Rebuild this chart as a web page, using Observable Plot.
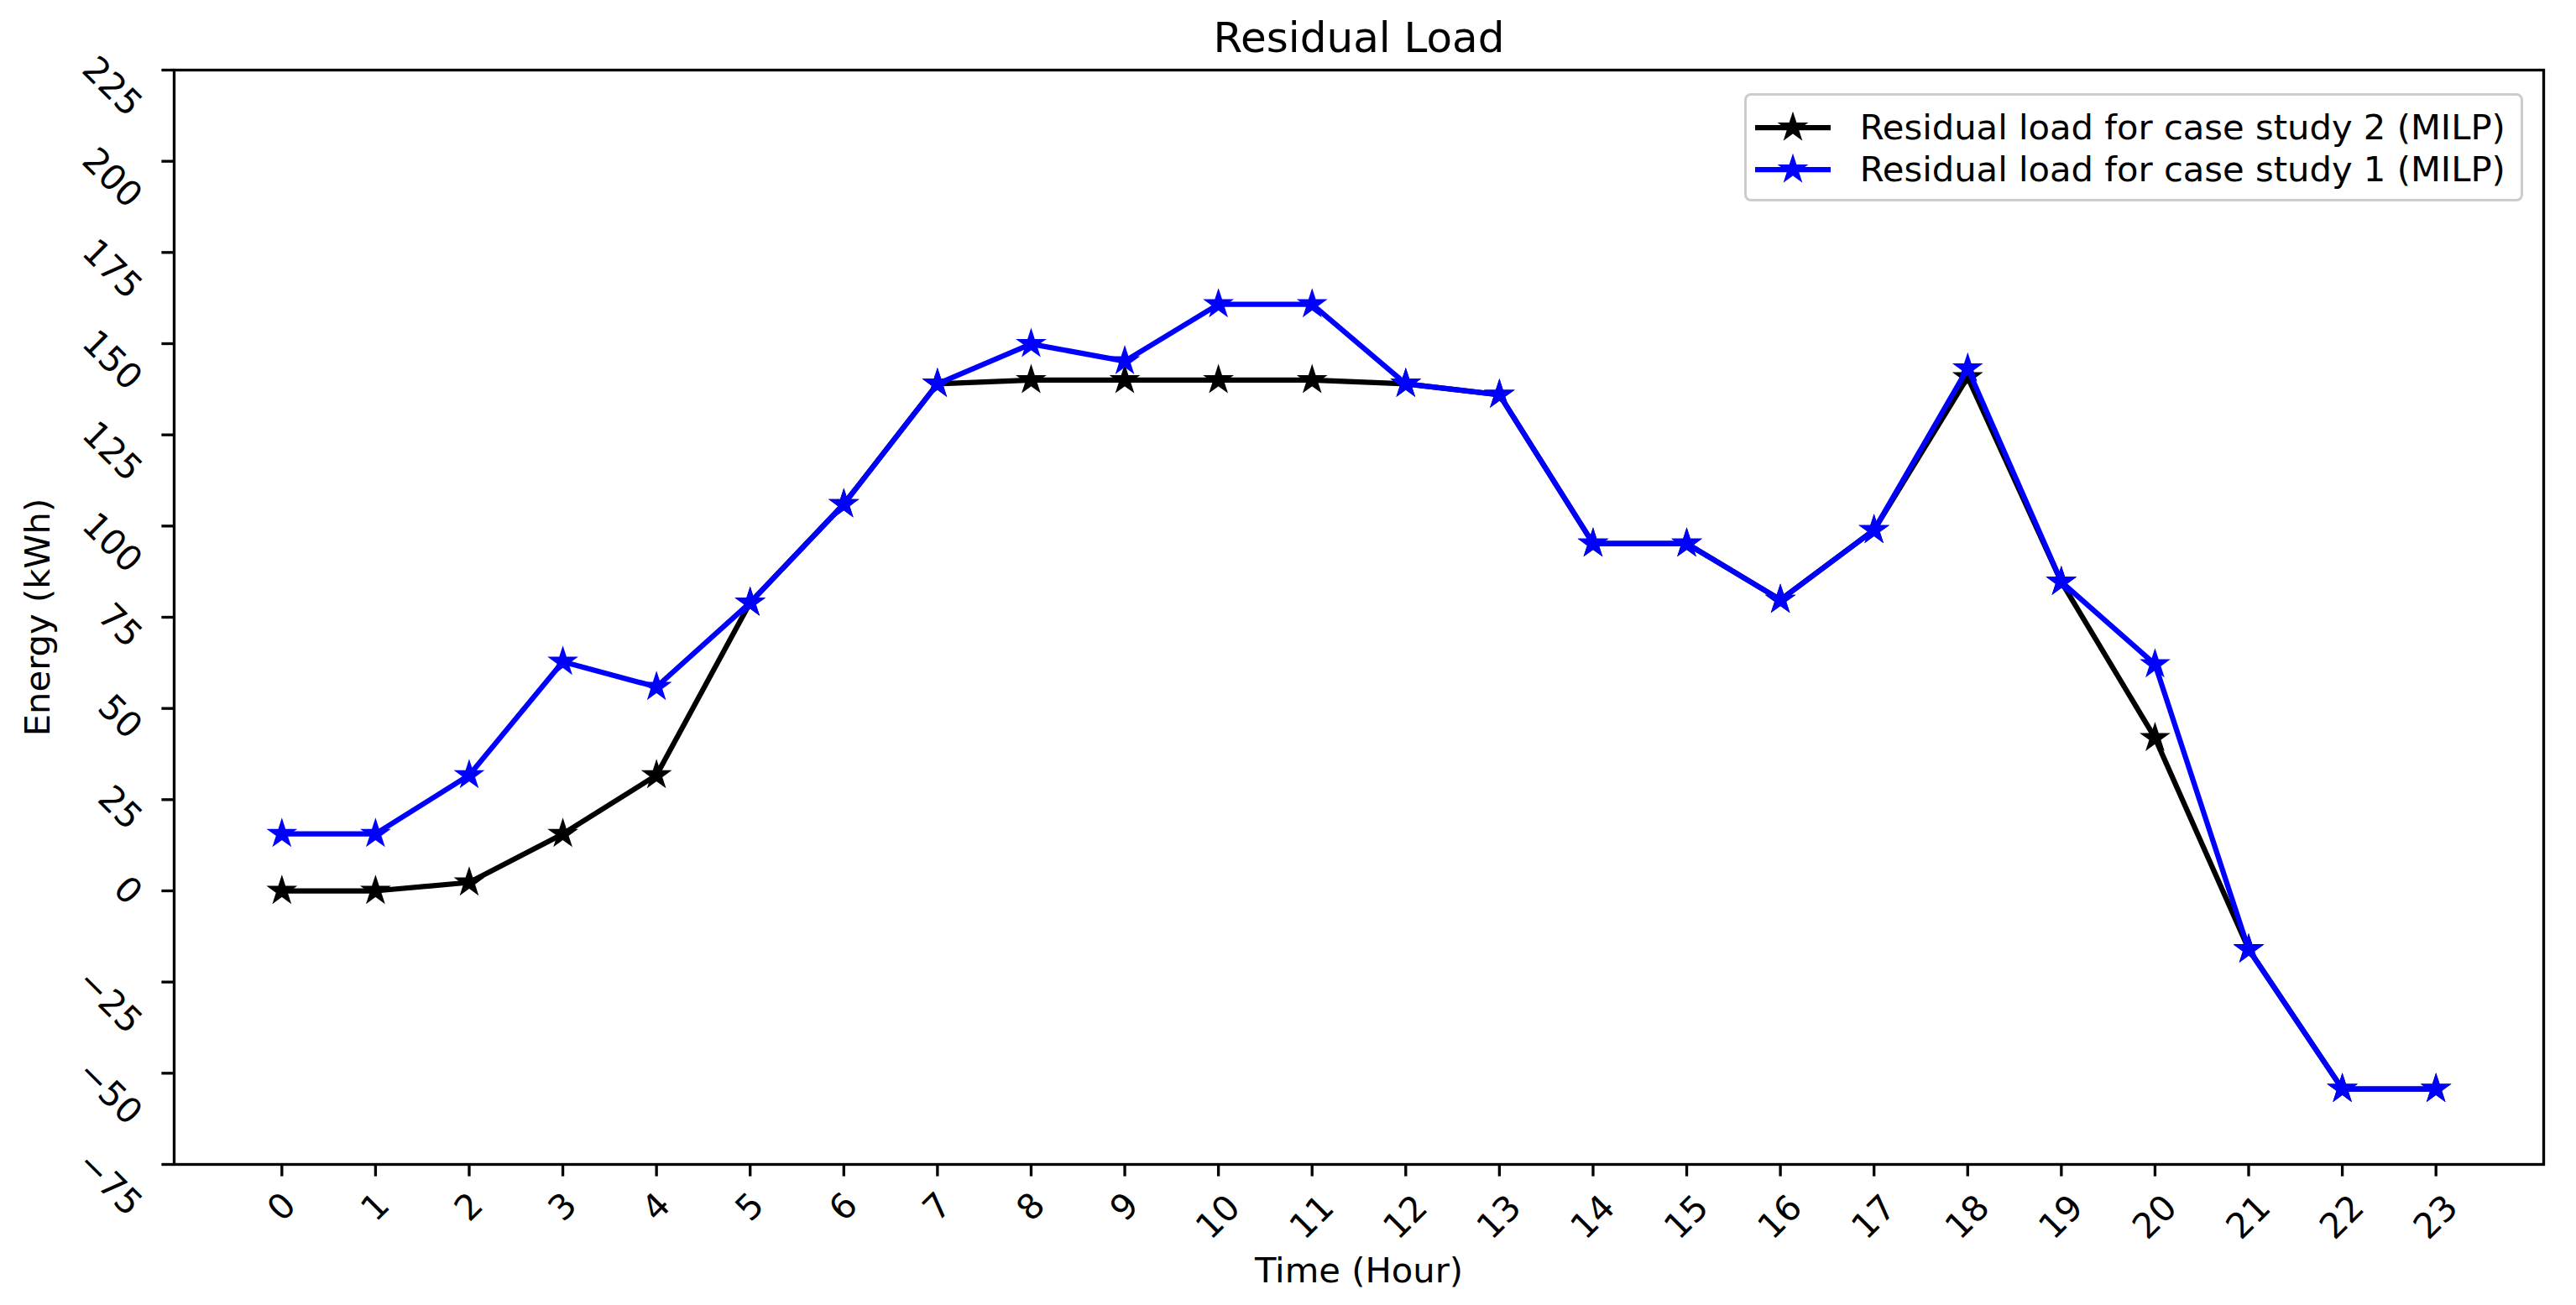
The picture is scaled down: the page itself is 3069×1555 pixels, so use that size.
<!DOCTYPE html>
<html>
<head>
<meta charset="utf-8">
<script src="https://cdn.jsdelivr.net/npm/d3@7"></script>
<script src="https://cdn.jsdelivr.net/npm/@observablehq/plot@0.6"></script>
<style>
  body { margin: 0; background: #fff; }
  #fig { position: relative; width: 3069px; height: 1555px; font-family: "DejaVu Sans", sans-serif; overflow: hidden; }
  #fig > svg { position: absolute; left: 0; top: 0; }
  #legend { position: absolute; left: 2078px; top: 111px; width: 928px; height: 129px; box-sizing: border-box;
            border: 3.3px solid #cccccc; border-radius: 8px; background: rgba(255,255,255,0.8); }
  .lrow { position: absolute; left: 0; width: 100%; height: 50px; }
  .lrow svg { position: absolute; left: 9.7px; top: 0; }
  .lrow span { position: absolute; left: 134.7px; top: 0; line-height: 50px; font-size: 41.7px; color: #000; white-space: nowrap; }
</style>
</head>
<body>
<div id="fig"></div>
<script>
// ---------- data ----------
const title = "Residual Load";
const xLabel = "Time (Hour)";
const yLabel = "Energy (kWh)";
const hours = [0, 1, 2, 3, 4, 5, 6, 7, 8, 9, 10, 11, 12, 13, 14, 15, 16, 17, 18, 19, 20, 21, 22, 23];
const hourLabels = ["0","1","2","3","4","5","6","7","8","9","10","11","12","13","14","15","16","17","18","19","20","21","22","23"];
const yTicks = [-75, -50, -25, 0, 25, 50, 75, 100, 125, 150, 175, 200, 225];
const yTickLabels = ["−75","−50","−25","0","25","50","75","100","125","150","175","200","225"];
const seriesNames = ["Residual load for case study 2 (MILP)", "Residual load for case study 1 (MILP)"];
const seriesColors = ["#000000", "#0000ff"];
// case study 2 (black)
const case2 = [0, 0, 2.3, 15.6, 31.7, 79, 106, 139, 140, 140, 140, 140, 139, 136, 95.2, 95.2, 79.8, 98.9, 140.8, 84.7, 41.9, -16, -54.3, -54.3];
// case study 1 (blue)
const case1 = [15.6, 15.6, 31.7, 62.8, 55.9, 79, 106, 139, 149.9, 145.2, 160.8, 160.8, 139, 136, 95.2, 95.2, 79.8, 98.9, 143.2, 84.7, 62.1, -16.1, -54.3, -54.3];

// ---------- build ----------
const seriesData = [case2, case1].map(vals => hours.map((h, i) => ({hour: h, value: vals[i]})));

const FS = 41.7;       // 10pt @300dpi
const LW = 6.25;       // 1.5pt line
const SW = 3.33;       // 0.8pt spines/ticks
const TICK = 14.6;     // 3.5pt
const R = 7.5;         // star radius param
const MEW = 4.2;       // marker edge width

// y tick labels grouped by rendered width (for matplotlib-like rotated placement)
const digitW = 0.636 * FS, minusW = 0.838 * FS;
const yLab = yTicks.map((v, i) => {
  const s = yTickLabels[i];
  const w = [...s].reduce((acc, c) => acc + (c === "−" ? minusW : digitW), 0);
  return {v, s, w};
});
const yGroups = d3.groups(yLab, d => d.w);
const yTextMarks = yGroups.map(([w, g]) => {
  const c = 0.377 * (w - digitW);
  return Plot.text(g, {frameAnchor: "left", y: "v", text: "s", rotate: 45, textAnchor: "end", lineAnchor: "middle",
                       dx: -46, dy: c + 0.354 * w, fontSize: FS});
});

const xLab = hours.map((h, i) => ({h, s: hourLabels[i]}));
const xGroups = d3.groups(xLab, d => d.s.length);
const xTextMarks = xGroups.map(([len, g]) =>
  Plot.text(g, {x: "h", frameAnchor: "bottom", text: "s", rotate: -45, textAnchor: "middle", lineAnchor: "middle",
                dy: len === 1 ? 51 : 63, fontSize: FS}));

const seriesMarks = seriesData.flatMap((data, k) => [
  Plot.line(data, {x: "hour", y: "value", stroke: seriesColors[k], strokeWidth: LW, strokeLinejoin: "round", strokeLinecap: "square"}),
  Plot.dot(data, {x: "hour", y: "value", symbol: "star", r: R, fill: seriesColors[k], stroke: seriesColors[k], strokeWidth: MEW})
]);

const chart = Plot.plot({
  width: 3069,
  height: 1555,
  marginLeft: 207,
  marginRight: 39,
  marginTop: 83,
  marginBottom: 168,
  x: {domain: [-1.15, 24.15]},
  y: {domain: [-75, 225]},
  style: {fontFamily: "DejaVu Sans", fontSize: FS + "px", background: "transparent", color: "black"},
  marks: [
    Plot.axisX({ticks: hours, tickSize: TICK, tickFormat: () => "", strokeWidth: SW, label: null}),
    Plot.axisY({ticks: yTicks, tickSize: TICK, tickFormat: () => "", strokeWidth: SW, label: null}),
    ...seriesMarks,
    Plot.frame({stroke: "black", strokeWidth: SW}),
    ...yTextMarks,
    ...xTextMarks,
    Plot.text([title], {frameAnchor: "top", text: d => d, textAnchor: "middle", lineAnchor: "bottom", dy: -22, fontSize: 50}),
    Plot.text([xLabel], {frameAnchor: "bottom", text: d => d, textAnchor: "middle", lineAnchor: "bottom", dy: 140, fontSize: FS}),
    Plot.text([yLabel], {frameAnchor: "left", text: d => d, textAnchor: "middle", lineAnchor: "bottom", rotate: -90, dx: -149, fontSize: FS})
  ]
});

const fig = document.getElementById("fig");
fig.appendChild(chart);

// ---------- legend ----------
const legend = document.createElement("div");
legend.id = "legend";
const starPath = d3.symbol(d3.symbolStar, R * R * Math.PI)();
seriesNames.forEach((name, k) => {
  const row = document.createElement("div");
  row.className = "lrow";
  row.style.top = (12.7 + 50 * k) + "px";
  row.innerHTML =
    `<svg width="100" height="50" viewBox="0 0 100 50">
       <line x1="0" y1="25" x2="90" y2="25" stroke="${seriesColors[k]}" stroke-width="${LW}"/>
       <path d="${starPath}" transform="translate(45,25)" fill="${seriesColors[k]}" stroke="${seriesColors[k]}" stroke-width="${MEW}"/>
     </svg><span>${name}</span>`;
  legend.appendChild(row);
});
fig.appendChild(legend);
</script>
</body>
</html>
